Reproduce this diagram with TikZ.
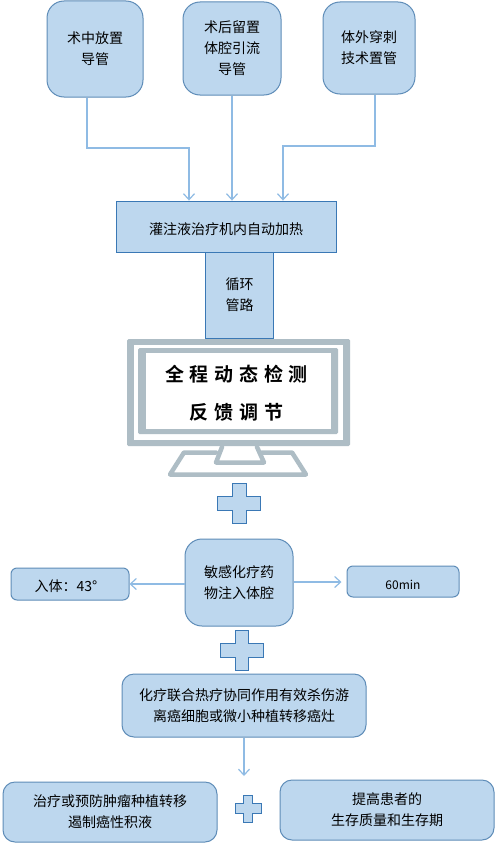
\documentclass[tikz,border=0pt]{standalone}
\usepackage{fontspec}
\setmainfont{Noto Sans CJK SC}[Scale=1]
\newfontfamily\cjkbold[LetterSpace=30,BoldFont={Noto Sans CJK SC Bold}]{Noto Sans CJK SC}
\usetikzlibrary{arrows.meta}
\definecolor{boxfill}{HTML}{BDD7EE}
\definecolor{boxline}{HTML}{5F8DB8}
\definecolor{rectline}{HTML}{3A78B5}
\definecolor{arrowc}{HTML}{8FBBE4}
\definecolor{mon}{HTML}{AEBDC5}
\tikzset{
  x=1pt,y=-1pt,
  txt/.style={font=\fontsize{14}{21}\selectfont,align=center,text=black,inner sep=0pt,execute at begin node={\rule{0pt}{16.5pt}}},
  rbox/.style={txt,draw=boxline,fill=boxfill,line width=1pt,rounded corners=#1},
  rbox/.default=17pt,
  sbox/.style={txt,draw=rectline,fill=boxfill,line width=0.9pt},
  conn/.style={draw=arrowc,line width=1.2pt,-{Straight Barb[length=6pt,width=11pt,line width=1.2pt]}},
  plusc/.style={draw=rectline,fill=boxfill,line width=0.8pt},
  monf/.style={fill=mon,rounded corners=1.5pt},
  monl/.style={draw=mon,line width=4.5pt,line join=round,line cap=round},
}
\newcommand{\pluss}[6]{%
  \draw[plusc] (#3,#5) -- (#4,#5) -- (#4,\ya) -- (#2,\ya) -- (#2,\yb) -- (#4,\yb) -- (#4,#6) -- (#3,#6) -- (#3,\yb) -- (#1,\yb) -- (#1,\ya) -- (#3,\ya) -- cycle;}
\begin{document}
\begin{tikzpicture}
\useasboundingbox (0,0) rectangle (497,843);
\fill[white] (0,0) rectangle (497,843);
% top boxes
\node[rbox,minimum width=96pt,minimum height=96pt] (A) at (95,49) {术中放置\\导管};
\node[rbox,minimum width=98pt,minimum height=93pt] (B) at (232,48.5) {术后留置\\体腔引流\\导管};
\node[rbox,minimum width=92pt,minimum height=92pt] (C) at (369,48) {体外穿刺\\技术置管};
\node[sbox,minimum width=220pt,minimum height=51pt] (D) at (226,226.5) {灌注液治疗机内自动加热};
\node[sbox,minimum width=68pt,minimum height=86pt] (E) at (239.5,295) {循环\\管路};
% monitor
\fill[monf] (127,339) rectangle (350,446);
\fill[white] (134,345) rectangle (343,440);
\fill[monf] (138,348) rectangle (338,434);
\fill[white] (146,353) rectangle (331,429);
\node[inner sep=0pt,font=\fontsize{19}{38}\selectfont\cjkbold\bfseries,align=center] (M) at (236.5,393) {全程动态检测\\反馈调节};
\draw[monl] (222,447) -- (216,462.5) -- (264,462.5) -- (257,447);
\draw[monl] (216,452.5) -- (184,452.5) -- (170,474.5) -- (306,474.5) -- (292,452.5) -- (262,452.5);
% plus 1
\def\ya{496}\def\yb{510}
\pluss{217}{260}{232}{246}{483}{523}
% middle
\node[rbox,minimum width=108pt,minimum height=87pt] (F) at (239,582.5) {敏感化疗药\\物注入体腔};
\node[rbox=6pt,minimum width=118pt,minimum height=32pt] (G) at (70,584) {入体：43°\hspace{8pt}};
\node[rbox=6pt,minimum width=112pt,minimum height=31pt] (H) at (403,581.5) {\fontsize{12}{14}\selectfont 60min};
\def\ya{643}\def\yb{657}
\pluss{220}{263}{235.5}{248.5}{630}{670}
\node[rbox=12pt,minimum width=244pt,minimum height=63pt] (I) at (244,705.5) {化疗联合热疗协同作用有效杀伤游\\离癌细胞或微小种植转移癌灶};
\node[rbox=12pt,minimum width=214pt,minimum height=60pt] (J) at (110,812) {治疗或预防肿瘤种植转移\\遏制癌性积液};
\node[rbox=12pt,minimum width=214pt,minimum height=60pt] (K) at (387,810) {提高患者的\\生存质量和生存期};
\def\ya{803}\def\yb{813}
\pluss{235}{261}{243}{252}{795}{822}
% connectors
\coordinate (aj) at (189,148);
\coordinate (cj) at (283,146);
\draw[conn] ([xshift=-8pt]A.south) |- (aj) -- (aj |- D.north);
\draw[conn] (B.south) -- (B.south |- D.north);
\draw[conn] ([xshift=6pt]C.south) |- (cj) -- (cj |- D.north);
\draw[conn] (F.west |- G.east) -- (G.east);
\draw[conn] ([yshift=-0.5pt]F.east |- H.west) -- ([xshift=-5pt,yshift=-0.5pt]H.west);
\coordinate (ie) at (244,776);
\draw[conn] (I.south) -- (ie);
\end{tikzpicture}
\end{document}
